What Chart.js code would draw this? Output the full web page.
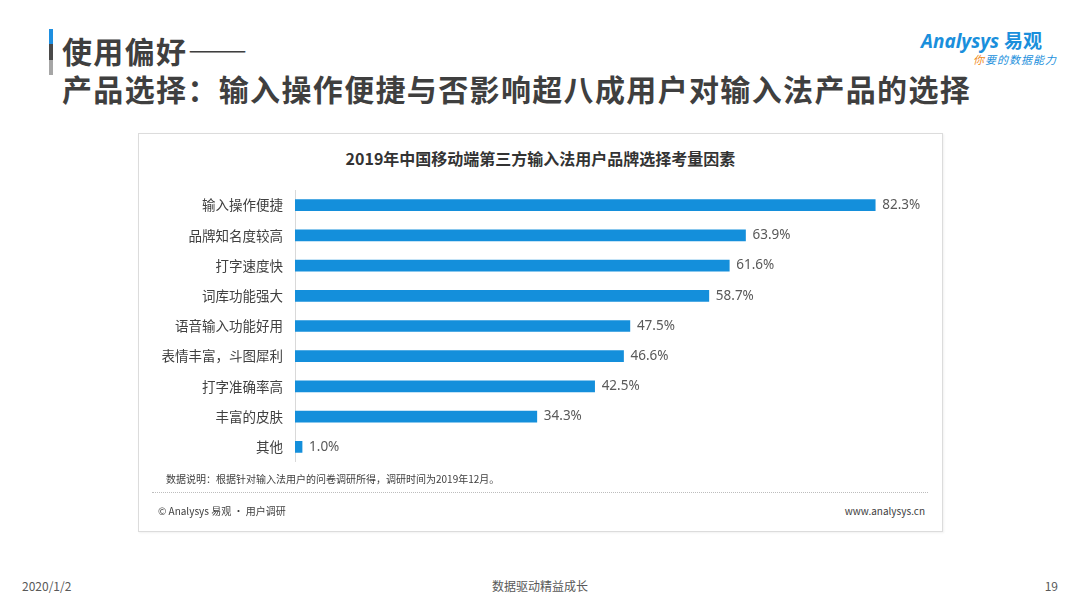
<!DOCTYPE html>
<html lang="zh">
  <head>
    <meta charset="UTF-8" />
    <script src="https://cdn.jsdelivr.net/npm/chart.js@4.4.1/dist/chart.umd.min.js"></script>
    <style>
      body {
        margin: 0;
        width: 1080px;
        height: 608px;
        background: #fff;
        position: relative;
        overflow: hidden;
        font-family: "Noto Sans CJK SC", "Noto Sans", sans-serif;
        color: #404040;
      }
      .abs { position: absolute; white-space: nowrap; }
      #accent {
        left: 49px; top: 29px; width: 4px; height: 46px;
        background: linear-gradient(#1e8fe0 0 32%, #4a4a4a 32% 68%, #a6a6a6 68%);
      }
      .head { left: 62px; font-size: 30px; font-weight: bold; color: #3f3f3f; letter-spacing: 1.35px; }
      #box {
        left: 138px; top: 133px; width: 803px; height: 397px;
        border: 1px solid #dcdcdc;
        box-shadow: 1px 1px 2px rgba(0,0,0,0.06);
      }
      #chartTitle { left: 138px; width: 805px; top: 146px; text-align: center; font-size: 16px; font-weight: bold; color: #333; }
      #myChart { position: absolute; left: 138px; top: 170px; }
      .small { font-size: 10px; color: #404040; }
      #rule { left: 152px; top: 492px; width: 776px; border-top: 1px dotted #bdbdbd; }
      .foot { top: 577px; font-size: 12px; color: #595959; }
    </style>
  </head>
  <body>
    <div class="abs" id="accent"></div>
    <div class="abs head" style="top: 28px">使用偏好<span style="letter-spacing: -2px">——</span></div>
    <div class="abs head" style="top: 66px">产品选择：输入操作便捷与否影响超八成用户对输入法产品的选择</div>

    <!-- logo -->
    <div class="abs" style="left: 921px; top: 26px; font-size: 19px; font-weight: bold; font-style: italic; color: #1a8fdc; font-family: 'Noto Sans', sans-serif;">
      Analysys <span style="font-family: 'Noto Sans CJK SC'; font-style: normal">易观</span>
    </div>
    <div class="abs" style="left: 973px; top: 51px; font-size: 11px; font-style: italic; color: #1a8fdc; letter-spacing: 1px;">
      <span style="color: #f08a24">你</span>要的数据能力
    </div>

    <div class="abs" id="box"></div>
    <div class="abs" id="chartTitle">2019年中国移动端第三方输入法用户品牌选择考量因素</div>
    <canvas id="myChart" width="804" height="312"></canvas>
    <div class="abs small" style="left: 166px; top: 471px">数据说明：根据针对输入法用户的问卷调研所得，调研时间为2019年12月。</div>
    <div class="abs" id="rule"></div>
    <div class="abs small" style="left: 158px; top: 503px">© Analysys 易观 · 用户调研</div>
    <div class="abs small" style="right: 155px; top: 503px">www.analysys.cn</div>

    <div class="abs foot" style="left: 22px">2020/1/2</div>
    <div class="abs foot" style="left: 0; width: 1080px; text-align: center">数据驱动精益成长</div>
    <div class="abs foot" style="right: 22px">19</div>

    <script>
      // reasons for choosing an input method (survey, %)
      const categories = [
        "输入操作便捷",
        "品牌知名度较高",
        "打字速度快",
        "词库功能强大",
        "语音输入功能好用",
        "表情丰富，斗图犀利",
        "打字准确率高",
        "丰富的皮肤",
        "其他",
      ];
      const values = [82.3, 63.9, 61.6, 58.7, 47.5, 46.6, 42.5, 34.3, 1.0];

      // draws the "82.3%" labels at the end of each bar
      const valueLabels = {
        id: "valueLabels",
        afterDatasetsDraw(chart) {
          const ctx = chart.ctx;
          ctx.save();
          ctx.font = '13.5px "Noto Sans", "Noto Sans CJK SC", sans-serif';
          ctx.fillStyle = "#595959";
          ctx.textBaseline = "middle";
          chart.getDatasetMeta(0).data.forEach((bar, i) => {
            ctx.fillText(values[i].toFixed(1) + "%", bar.x + 7, bar.y);
          });
          ctx.restore();
        },
      };

      const ctx = document.getElementById("myChart").getContext("2d");
      new Chart(ctx, {
        type: "bar",
        data: {
          labels: categories,
          datasets: [
            {
              data: values,
              backgroundColor: "#148fdb",
              barThickness: 11,
            },
          ],
        },
        options: {
          indexAxis: "y",
          responsive: false,
          animation: false,
          layout: { padding: { top: 0, bottom: 0, right: 12.5, left: 0 } },
          plugins: {
            legend: { display: false },
            tooltip: { enabled: false },
          },
          scales: {
            x: {
              display: false,
              min: 0,
              max: 90,
            },
            y: {
              afterFit: (scale) => { scale.width = 157; },
              grid: { display: false, drawTicks: false },
              border: { color: "#d9d9d9" },
              ticks: {
                padding: 12,
                color: "#404040",
                font: { size: 13.5, family: '"Noto Sans CJK SC", sans-serif' },
              },
            },
          },
        },
        plugins: [valueLabels],
      });
    </script>
  </body>
</html>
